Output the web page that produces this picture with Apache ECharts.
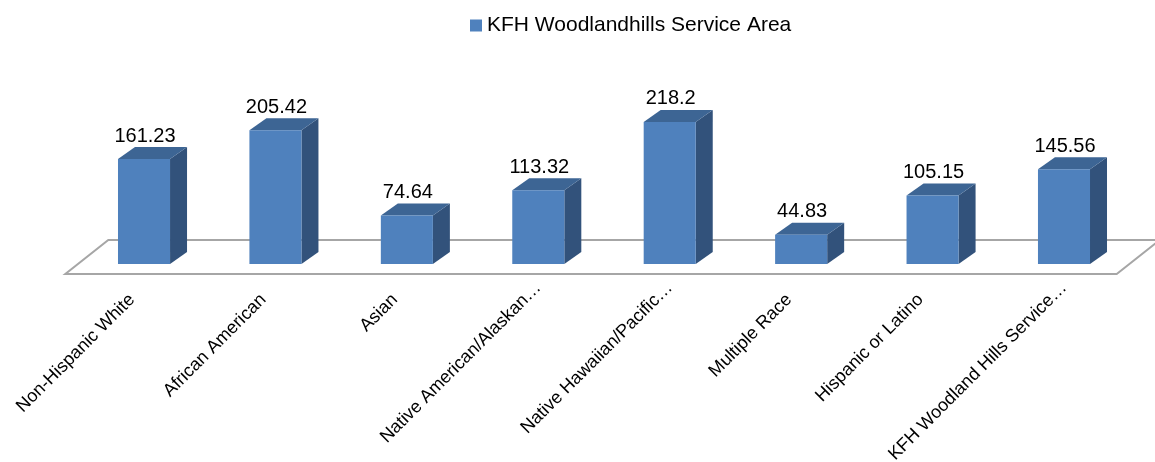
<!DOCTYPE html>
<html>
<head>
<meta charset="utf-8">
<script src="https://cdn.jsdelivr.net/npm/echarts@6/dist/echarts.min.js"></script>
<style>html,body{margin:0;padding:0;background:#fff}#c{width:1155px;height:462px}</style>
</head>
<body>
<div id="c"></div>
<script>
var categories = ['Non-Hispanic White', 'African American', 'Asian', 'Native American/Alaskan\u2026', 'Native Hawaiian/Pacific\u2026', 'Multiple Race', 'Hispanic or Latino', 'KFH Woodland Hills Service\u2026'];
var values = [161.23, 205.42, 74.64, 113.32, 218.2, 44.83, 105.15, 145.56];
var seriesName = 'KFH Woodlandhills Service Area';

var FONT = '"Liberation Sans", Arial, sans-serif';
var FRONT = '#4F81BD', SIDE = '#32527B', TOP = '#3D6594';
var DX = 17, DY = -12;

var chart = echarts.init(document.getElementById('c'), null, {renderer: 'canvas'});

function renderBar(params, api) {
  var i = api.value(0), v = api.value(1);
  var base = api.coord([i, 0]);
  var top = api.coord([i, v]);
  var band = api.size([1, 0])[0];
  var w = band * 0.396;
  var x0 = base[0] - w / 2, x1 = base[0] + w / 2;
  var yb = base[1], yt = top[1];
  return {
    type: 'group',
    children: [
      {type: 'polygon', shape: {points: [[x1, yb], [x1 + DX, yb + DY], [x1 + DX, yt + DY], [x1, yt]]}, style: {fill: SIDE}},
      {type: 'polygon', shape: {points: [[x0, yt], [x1, yt], [x1 + DX, yt + DY], [x0 + DX, yt + DY]]}, style: {fill: TOP}},
      {type: 'rect', shape: {x: x0, y: yt, width: w, height: yb - yt}, style: {fill: FRONT}},
      {type: 'text', x: base[0] + 1, y: yt + DY - 1, style: {text: String(v), fill: '#000', font: '20px ' + FONT, align: 'center', verticalAlign: 'bottom'}}
    ]
  };
}

function renderFloor(params, api) {
  if (params.dataIndex !== 0) return null;
  var n = categories.length;
  var c0 = api.coord([0, 0]);
  var band = api.size([1, 0])[0];
  var s = c0[0] - band / 2, e = c0[0] + (n - 1) * band + band / 2;
  var y = c0[1];
  return {
    type: 'polygon',
    shape: {points: [[s - 13, y + 10], [e - 13, y + 10], [e + 30, y - 24], [s + 30, y - 24]]},
    style: {fill: '#fff', stroke: '#A6A6A6', lineWidth: 2}
  };
}

var labelStyle = {fontSize: 18, color: '#000', fontFamily: FONT};

chart.setOption({
  animation: false,
  textStyle: {fontFamily: FONT},
  legend: {
    top: 15, left: 470, padding: 0,
    icon: 'rect', itemWidth: 12, itemHeight: 12, itemGap: 5,
    textStyle: {fontSize: 21, color: '#000', fontFamily: FONT},
    data: [{name: seriesName, itemStyle: {color: FRONT}}]
  },
  grid: {left: 78.3, right: 25.3, top: 101.25, bottom: 198, containLabel: false, outerBoundsMode: 'none'},
  xAxis: {
    type: 'category', data: categories,
    axisLine: {show: false}, axisTick: {show: false},
    axisLabel: {
      interval: 0, rotate: 45, margin: 21, fontSize: 18, color: '#000', fontFamily: FONT,
      formatter: function (v) {
        return v.charAt(v.length - 1) === '\u2026' ? '{t|' + v + '}' : '{n|' + v + '}';
      },
      rich: {
        n: {fontSize: 18, color: '#000', fontFamily: FONT, padding: [0, 17, 0, 0]},
        t: {fontSize: 18, color: '#000', fontFamily: FONT, padding: [0, 0, 0, 0]}
      }
    }
  },
  yAxis: {type: 'value', min: 0, max: 250, show: false, splitLine: {show: false}},
  series: [
    {type: 'custom', name: 'floor', z: 1, silent: true, renderItem: renderFloor,
     data: categories.map(function (c, i) { return [i, 0]; })},
    {type: 'custom', name: seriesName, z: 2, renderItem: renderBar, itemStyle: {color: FRONT},
     encode: {x: 0, y: 1},
     data: values.map(function (v, i) { return [i, v]; })}
  ]
});
</script>
</body>
</html>
